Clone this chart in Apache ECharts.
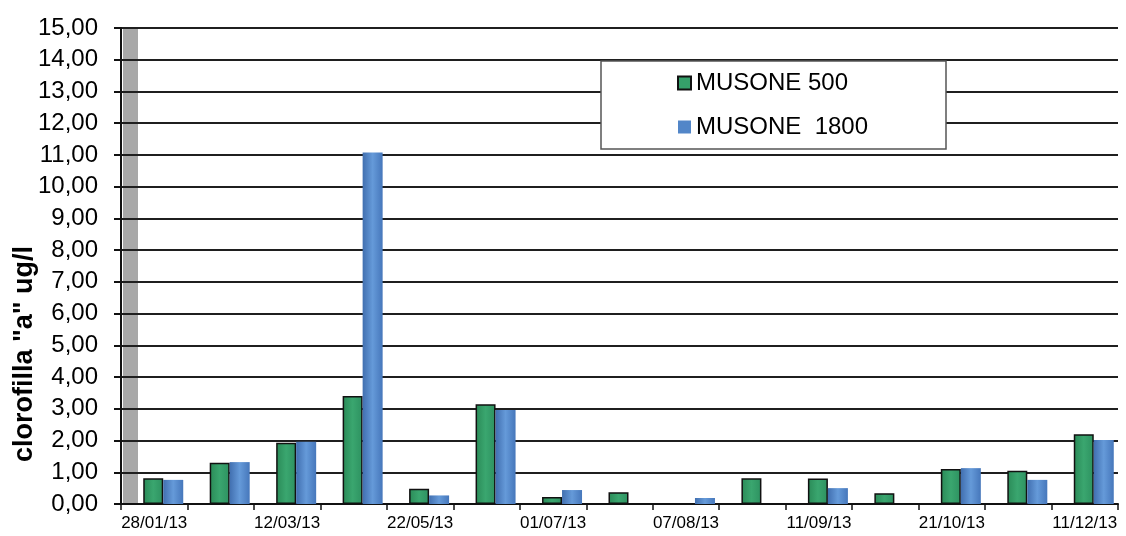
<!DOCTYPE html>
<html>
<head>
<meta charset="utf-8">
<script src="https://cdn.jsdelivr.net/npm/echarts@6/dist/echarts.min.js"></script>
<style>html,body{margin:0;padding:0;background:#fff}#c{width:1126px;height:536px}</style>
</head>
<body>
<div id="c"></div>
<script>
const categories = ['28/01/13','','12/03/13','','22/05/13','','01/07/13','','07/08/13','','11/09/13','','21/10/13','','11/12/13'];
const musone500 = [0.81, 1.30, 1.93, 3.40, 0.48, 3.14, 0.22, 0.37, null, 0.81, 0.80, 0.34, 1.10, 1.05, 2.20];
const musone1800 = [0.76, 1.32, 1.96, 11.08, 0.27, 2.96, 0.44, null, 0.19, null, 0.50, null, 1.13, 0.76, 2.02];
const seriesNames = ['MUSONE 500', 'MUSONE  1800'];
const yAxisTitle = 'clorofilla "a" ug/l';
const spacer = categories.map(() => null);

const FONT = '"Liberation Sans", Arial, sans-serif';
const chart = echarts.init(document.getElementById('c'), null, {renderer: 'canvas'});

const greenFill = new echarts.graphic.LinearGradient(0, 0, 1, 0, [
  {offset: 0, color: '#2a8a57'}, {offset: 0.5, color: '#3aa66f'}, {offset: 1, color: '#2d9160'}]);
const blueFill = new echarts.graphic.LinearGradient(0, 0, 1, 0, [
  {offset: 0, color: '#416fb0'}, {offset: 0.5, color: '#659ad9'}, {offset: 1, color: '#4677bb'}]);

chart.setOption({
  animation: false,
  backgroundColor: '#fff',
  grid: {left: 121, right: 8, top: 28, bottom: 32},
  legend: {
    data: [
      {name: seriesNames[0], icon: 'rect', itemStyle: {color: '#35a06a', borderColor: '#111', borderWidth: 2}},
      {name: seriesNames[1], icon: 'rect', itemStyle: {color: '#5286c8', borderWidth: 0}}
    ],
    orient: 'vertical',
    left: 677, top: 70,
    padding: 0,
    itemWidth: 13, itemHeight: 13, itemGap: 18,
    z: 12,
    textStyle: {fontFamily: FONT, fontSize: 24, lineHeight: 26, color: '#000'}
  },
  xAxis: {
    type: 'category',
    data: categories,
    axisLine: {lineStyle: {color: '#111', width: 2}},
    axisTick: {show: true, length: 6, alignWithLabel: false, interval: 0, lineStyle: {color: '#111', width: 1.5}},
    axisLabel: {interval: 0, margin: 11, fontFamily: FONT, fontSize: 17, color: '#000'},
    splitLine: {show: false}
  },
  yAxis: {
    type: 'value',
    min: 0, max: 15, interval: 1,
    axisLine: {show: true, lineStyle: {color: '#111', width: 2}},
    axisTick: {show: true, length: 7, lineStyle: {color: '#111', width: 2}},
    axisLabel: {margin: 23, fontFamily: FONT, fontSize: 24, color: '#000',
      formatter: v => v.toFixed(2).replace('.', ',')},
    splitLine: {show: true, lineStyle: {color: '#1f1f1f', width: 2}}
  },
  graphic: [
    {type: 'rect', z: -10, shape: {x: 123, y: 28, width: 15, height: 476}, style: {fill: '#a8a8a8'}},
    {type: 'rect', z: 11, shape: {x: 601, y: 61, width: 345, height: 88}, style: {fill: '#fff', stroke: '#555', lineWidth: 1.5}},
    {type: 'text', z: 11, x: 25, y: 354, rotation: Math.PI / 2,
      style: {text: yAxisTitle, font: 'bold 27px ' + FONT, fill: '#000', align: 'center', verticalAlign: 'middle'}}
  ],
  series: [
    {name: 'spacer', type: 'bar', data: spacer, barWidth: 18, silent: true, itemStyle: {color: 'transparent'}},
    {name: seriesNames[0], type: 'bar', data: musone500, barWidth: 20, barGap: '0%',
      itemStyle: {color: greenFill, borderColor: '#111', borderWidth: 1.5}},
    {name: seriesNames[1], type: 'bar', data: musone1800, barWidth: 20, barGap: '0%',
      itemStyle: {color: blueFill, borderWidth: 0}}
  ]
});
</script>
</body>
</html>
